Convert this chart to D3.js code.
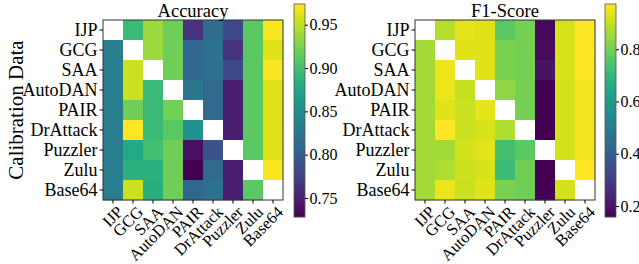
<!DOCTYPE html>
<html>
<head>
<meta charset="utf-8">
<script src="https://cdn.jsdelivr.net/npm/d3@7"></script>
<style>
  body { margin: 0; background: #fff; }
  svg text { font-family: "Liberation Serif", "DejaVu Serif", serif; fill: #000; }
  .tick line, .domain { stroke: #000; }
</style>
</head>
<body>
<svg id="chart" width="639" height="264"></svg>
<script>
// attack names, used for rows (calibration data) and columns (test data)
var attacks = ["IJP", "GCG", "SAA", "AutoDAN", "PAIR", "DrAttack", "Puzzler", "Zulu", "Base64"];

// accuracy, rows = calibration data, diagonal left empty
var accuracy = [
  [null, 0.895, 0.937, 0.920, 0.765, 0.814, 0.782, 0.912, 0.972],
  [0.831, null, 0.937, 0.920, 0.809, 0.821, 0.765, 0.912, 0.962],
  [0.831, 0.954, null, 0.920, 0.809, 0.821, 0.782, 0.912, 0.972],
  [0.831, 0.954, 0.895, null, 0.826, 0.812, 0.748, 0.912, 0.962],
  [0.831, 0.920, 0.895, 0.922, null, 0.812, 0.748, 0.912, 0.962],
  [0.831, 0.974, 0.895, 0.912, 0.853, null, 0.748, 0.912, 0.962],
  [0.831, 0.876, 0.900, 0.920, 0.738, 0.790, null, 0.912, 0.962],
  [0.831, 0.885, 0.885, 0.920, 0.728, 0.812, 0.748, null, 0.972],
  [0.831, 0.954, 0.883, 0.920, 0.809, 0.821, 0.748, 0.912, null]
];

// F1-score
var f1 = [
  [null, 0.883, 0.940, 0.932, 0.769, 0.802, 0.174, 0.924, 0.970],
  [0.859, null, 0.932, 0.932, 0.810, 0.802, 0.182, 0.924, 0.970],
  [0.859, 0.949, null, 0.932, 0.810, 0.802, 0.199, 0.924, 0.970],
  [0.859, 0.949, 0.900, null, 0.834, 0.802, 0.158, 0.916, 0.957],
  [0.859, 0.932, 0.908, 0.940, null, 0.802, 0.160, 0.916, 0.957],
  [0.859, 0.973, 0.908, 0.924, 0.875, null, 0.160, 0.916, 0.957],
  [0.859, 0.859, 0.916, 0.936, 0.729, 0.769, null, 0.916, 0.957],
  [0.859, 0.875, 0.912, 0.924, 0.712, 0.794, 0.160, null, 0.970],
  [0.859, 0.949, 0.908, 0.932, 0.810, 0.794, 0.160, 0.916, null]
];

var accTicks = [0.75, 0.80, 0.85, 0.90, 0.95];
var f1Ticks = [0.2, 0.4, 0.6, 0.8];

var svg = d3.select("#chart");

drawHeatmap({ data: accuracy, title: "Accuracy", left: 103, top: 20, size: 180,
              domain: [0.728, 0.974], ticks: accTicks, fmt: d3.format(".2f"), cbX: 294 });
drawHeatmap({ data: f1, title: "F1-Score", left: 415, top: 20, size: 180,
              domain: [0.158, 0.973], ticks: f1Ticks, fmt: d3.format(".1f"), cbX: 605 });

svg.append("text")
    .attr("transform", "translate(23,110) rotate(-90)")
    .attr("text-anchor", "middle")
    .style("font-size", "21px")
    .text("Calibration Data");

function drawHeatmap(o) {
    var g = svg.append("g").attr("transform", "translate(" + o.left + "," + o.top + ")");

    var x = d3.scaleBand().domain(attacks).range([0, o.size]);
    var y = d3.scaleBand().domain(attacks).range([0, o.size]);
    var color = d3.scaleSequential(d3.interpolateViridis).domain(o.domain);

    var cells = [];
    o.data.forEach(function(row, i) {
        row.forEach(function(v, j) {
            cells.push({ row: attacks[i], col: attacks[j], value: v });
        });
    });

    g.selectAll("rect.cell")
        .data(cells)
      .enter().append("rect")
        .attr("class", "cell")
        .attr("x", function(d) { return x(d.col); })
        .attr("y", function(d) { return y(d.row); })
        .attr("width", x.bandwidth() + 0.3)
        .attr("height", y.bandwidth() + 0.3)
        .attr("fill", function(d) { return d.value === null ? "#fff" : color(d.value); });

    // frame
    g.append("rect")
        .attr("width", o.size)
        .attr("height", o.size)
        .attr("fill", "none")
        .attr("stroke", "#333")
        .attr("stroke-width", 1);

    var yAxis = g.append("g")
        .call(d3.axisLeft(y).tickSize(3.5).tickPadding(2));
    yAxis.select(".domain").remove();
    yAxis.selectAll("text").style("font-size", "18px");

    var xAxis = g.append("g")
        .attr("transform", "translate(0," + o.size + ")")
        .call(d3.axisBottom(x).tickSize(3.5).tickPadding(2));
    xAxis.select(".domain").remove();
    xAxis.selectAll("text")
        .style("font-size", "16.5px")
        .attr("text-anchor", "end")
        .attr("y", 0)
        .attr("dy", "0.35em")
        .attr("transform", "translate(7,9) rotate(-45)");

    g.append("text")
        .attr("x", o.size / 2)
        .attr("y", -3)
        .attr("text-anchor", "middle")
        .style("font-size", "18.5px")
        .text(o.title);

    // colorbar
    var cbTop = 4, cbH = 213, cbW = 11;
    var cbScale = d3.scaleLinear().domain(o.domain).range([cbTop + cbH, cbTop]);
    var cb = svg.append("g");
    var steps = d3.range(0, cbH);
    cb.selectAll("rect")
        .data(steps)
      .enter().append("rect")
        .attr("x", o.cbX)
        .attr("y", function(s) { return cbTop + s; })
        .attr("width", cbW)
        .attr("height", 1.2)
        .attr("fill", function(s) { return color(cbScale.invert(cbTop + s + 0.5)); });
    cb.append("rect")
        .attr("x", o.cbX)
        .attr("y", cbTop)
        .attr("width", cbW)
        .attr("height", cbH)
        .attr("fill", "none")
        .attr("stroke", "#555")
        .attr("stroke-width", 0.8);
    var cbAxis = cb.append("g")
        .attr("transform", "translate(" + (o.cbX + cbW) + ",0)")
        .call(d3.axisRight(cbScale).tickValues(o.ticks).tickFormat(o.fmt).tickSize(3).tickPadding(1.5));
    cbAxis.select(".domain").remove();
    cbAxis.selectAll("text").style("font-size", "16px");
}
</script>
</body>
</html>
